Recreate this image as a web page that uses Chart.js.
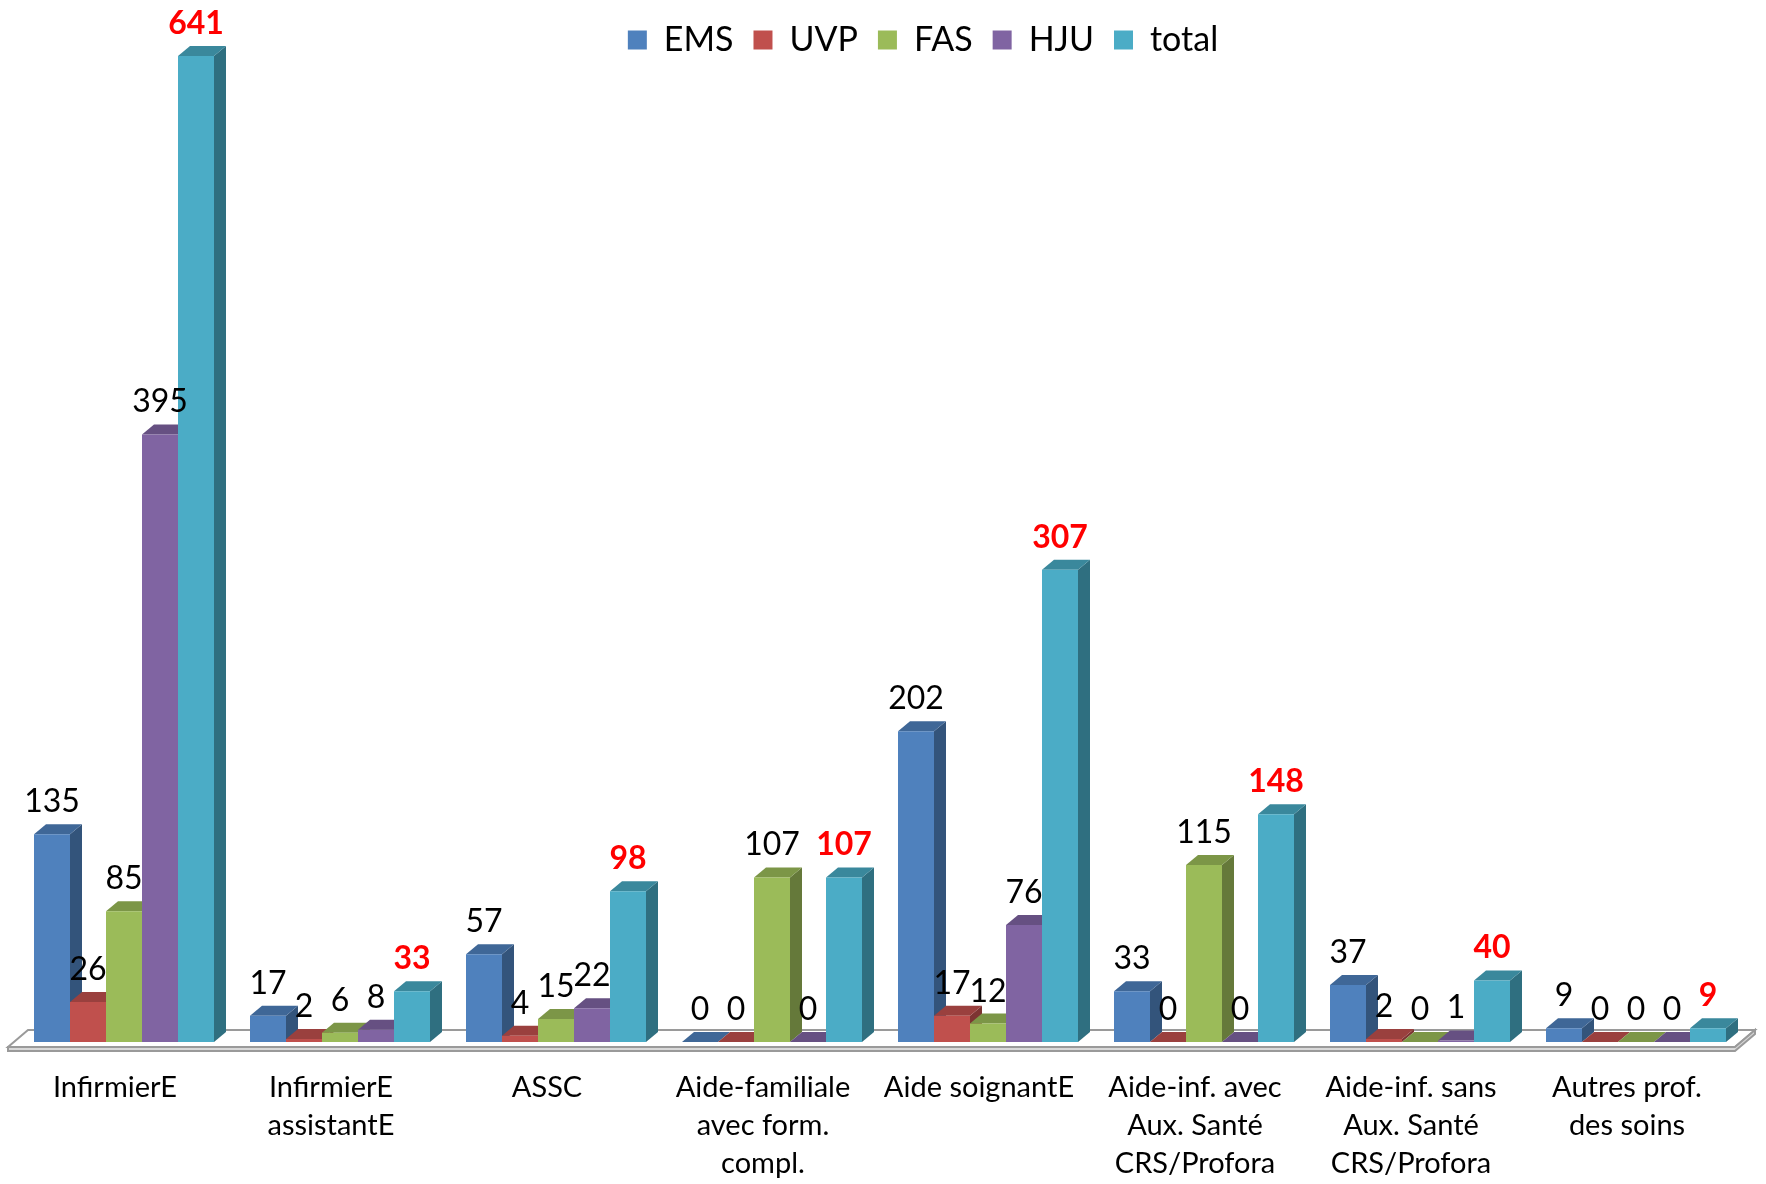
<!DOCTYPE html>
<html>
<head>
<meta charset="utf-8">
<script src="https://cdn.jsdelivr.net/npm/chart.js@4/dist/chart.umd.min.js"></script>
<style>
  html, body { margin: 0; padding: 0; background: #fff; }
  #wrap { width: 1766px; height: 1184px; position: relative; }
</style>
</head>
<body>
<div id="wrap"><canvas id="chart"></canvas></div>
<script>
// Staff by profession and setting, Excel-style 3D clustered columns.

const categories = [
    "InfirmierE",
    ["InfirmierE", "assistantE"],
    "ASSC",
    ["Aide-familiale", "avec form.", "compl."],
    "Aide soignantE",
    ["Aide-inf. avec", "Aux. Santé", "CRS/Profora"],
    ["Aide-inf. sans", "Aux. Santé", "CRS/Profora"],
    ["Autres prof.", "des soins"]
];

const seriesNames = ["EMS", "UVP", "FAS", "HJU", "total"];

const emsValues   = [135, 17, 57,   0, 202,  33, 37, 9];
const uvpValues   = [ 26,  2,  4,   0,  17,   0,  2, 0];
const fasValues   = [ 85,  6, 15, 107,  12, 115,  0, 0];
const hjuValues   = [395,  8, 22,   0,  76,   0,  1, 0];
const totalValues = [641, 33, 98, 107, 307, 148, 40, 9];

// front, side, top
const SERIES_COLORS = [
    { front: "#4F81BD", side: "#33547B", top: "#3F6797" },
    { front: "#C0504D", side: "#7D3432", top: "#9A403E" },
    { front: "#9BBB59", side: "#65793A", top: "#7C9647" },
    { front: "#8064A2", side: "#534169", top: "#665082" },
    { front: "#4BACC6", side: "#2F6F80", top: "#3A889C" }
];

const DEPTH_X = 12;
const DEPTH_Y = 10;

Chart.defaults.font.family = "Lato";
Chart.defaults.color = "#000";

// floor, then side + top faces of every bar (left to right); the
// library draws the front faces afterwards, which hides what is behind them
const depthPlugin = {
    id: "depth",
    beforeDatasetsDraw(chart) {
        const { ctx, chartArea } = chart;
        const base = chart.scales.y.getPixelForValue(0);
        const fl = chartArea.left - 8, fr = chartArea.right - 9;
        const fy = base + 5;
        const bx = 20, by = 17;
        ctx.save();
        ctx.fillStyle = "#fff";
        ctx.strokeStyle = "#9a9a9a";
        ctx.lineWidth = 2;
        ctx.beginPath();
        ctx.moveTo(fl, fy);
        ctx.lineTo(fr, fy);
        ctx.lineTo(fr + bx, fy - by);
        ctx.lineTo(fl + bx, fy - by);
        ctx.closePath();
        ctx.fill();
        ctx.stroke();
        // thickness of the floor
        ctx.fillStyle = "#d9d9d9";
        ctx.beginPath();
        ctx.moveTo(fl, fy);
        ctx.lineTo(fr, fy);
        ctx.lineTo(fr + bx, fy - by);
        ctx.lineTo(fr + bx, fy - by + 4);
        ctx.lineTo(fr, fy + 4);
        ctx.lineTo(fl, fy + 4);
        ctx.closePath();
        ctx.fill();
        ctx.stroke();

        const n = chart.data.labels.length;
        for (let j = 0; j < n; j++) {
            chart.data.datasets.forEach((ds, i) => {
                const bar = chart.getDatasetMeta(i).data[j];
                if (!bar) return;
                const col = SERIES_COLORS[i];
                const { x, y, base: b, width } = bar.getProps(["x", "y", "base", "width"], true);
                const l = x - width / 2, r = x + width / 2;
                ctx.fillStyle = col.side;
                ctx.beginPath();
                ctx.moveTo(r, y);
                ctx.lineTo(r + DEPTH_X, y - DEPTH_Y);
                ctx.lineTo(r + DEPTH_X, b - DEPTH_Y);
                ctx.lineTo(r, b);
                ctx.closePath();
                ctx.fill();
                ctx.fillStyle = col.top;
                ctx.beginPath();
                ctx.moveTo(l, y);
                ctx.lineTo(l + DEPTH_X, y - DEPTH_Y);
                ctx.lineTo(r + DEPTH_X, y - DEPTH_Y);
                ctx.lineTo(r, y);
                ctx.closePath();
                ctx.fill();
            });
        }
        ctx.restore();
    }
};

// value labels above every bar; totals in bold red
const valueLabelPlugin = {
    id: "valueLabels",
    afterDatasetsDraw(chart) {
        const { ctx } = chart;
        ctx.save();
        ctx.textAlign = "center";
        ctx.textBaseline = "alphabetic";
        chart.data.datasets.forEach((ds, i) => {
            const meta = chart.getDatasetMeta(i);
            const isTotal = i === chart.data.datasets.length - 1;
            ctx.font = (isTotal ? "bold " : "") + "32px Lato";
            ctx.fillStyle = isTotal ? "#FF0000" : "#000";
            meta.data.forEach((bar, j) => {
                ctx.fillText(String(ds.data[j]), bar.x, bar.y - 22);
            });
        });
        ctx.restore();
    }
};

// legend: a bit right of centre, a bit lower, and taking less room than
// Chart.js reserves for it by default
const legendTweak = {
    id: "legendTweak",
    beforeInit(chart) {
        const legend = chart.legend;
        if (!legend) return;
        const fit = legend.fit;
        legend.fit = function () {
            fit.call(this);
            this.height -= 8;
        };
    },
    afterLayout(chart) {
        const legend = chart.legend;
        if (!legend) return;
        legend.left += 43;
        legend.right += 43;
        legend.top += 3;
        legend.bottom += 3;
    }
};

const allValues = [emsValues, uvpValues, fasValues, hjuValues, totalValues];

const datasets = seriesNames.map((name, i) => ({
    label: name,
    data: allValues[i],
    backgroundColor: SERIES_COLORS[i].front,
    borderWidth: 0,
    categoryPercentage: 180 / 216,
    barPercentage: 1,
    clip: false
}));

new Chart(document.getElementById("chart"), {
    type: "bar",
    data: { labels: categories, datasets },
    options: {
        responsive: true,
        maintainAspectRatio: false,
        animation: false,
        layout: { padding: { left: 16, right: 22, top: 0, bottom: -26 } },
        plugins: {
            tooltip: { enabled: false },
            legend: {
                position: "top",
                labels: {
                    boxWidth: 19,
                    boxHeight: 19,
                    padding: 20,
                    color: "#000",
                    font: { family: "Lato", size: 34 }
                }
            }
        },
        scales: {
            x: {
                grid: { display: false, drawTicks: false },
                border: { display: false },
                ticks: {
                    padding: 27,
                    maxRotation: 0,
                    autoSkip: false,
                    labelOffset: -9,
                    color: "#000",
                    font: { family: "Lato", size: 29, lineHeight: 38 / 29 }
                }
            },
            y: {
                display: false,
                min: 0,
                max: 641
            }
        }
    },
    plugins: [depthPlugin, valueLabelPlugin, legendTweak]
});
</script>
</body>
</html>
